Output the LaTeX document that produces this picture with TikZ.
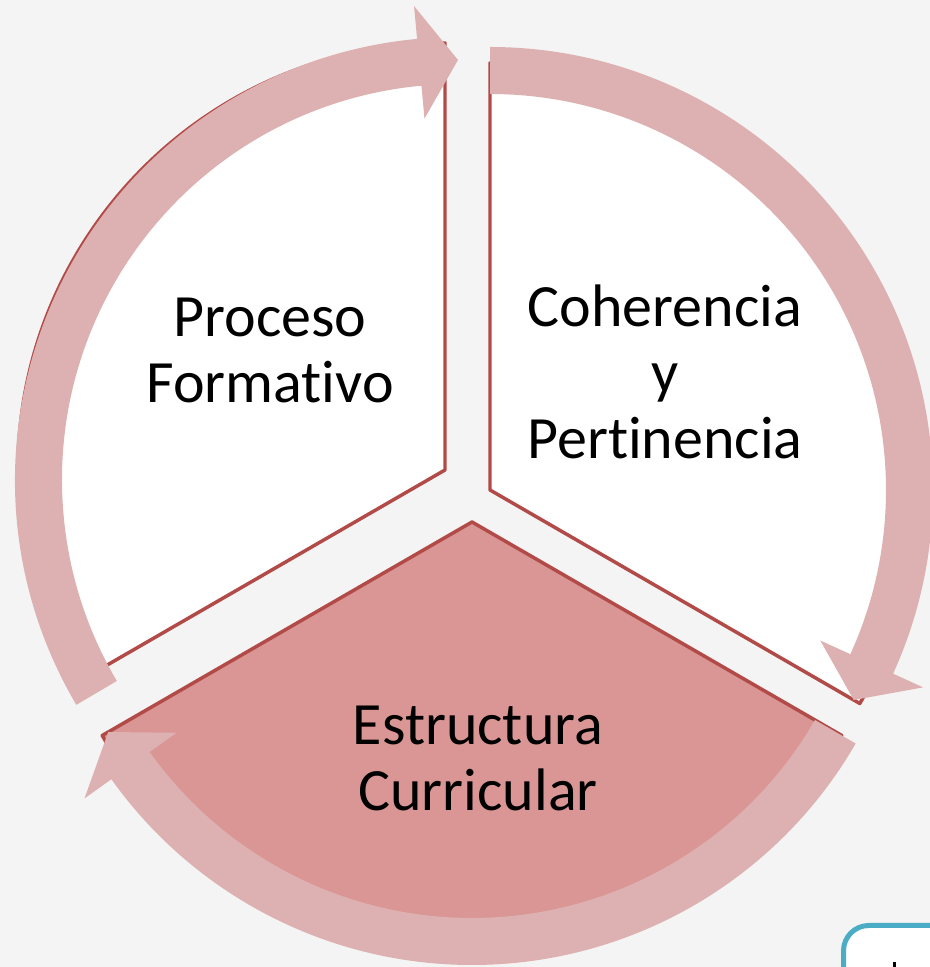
\documentclass[tikz,border=0pt]{standalone}
\usepackage{fontspec}
\setmainfont{Carlito}[Ligatures=NoCommon,RawFeature=-liga]
\definecolor{bgcol}{HTML}{F4F4F4}
\definecolor{linecol}{HTML}{B24B48}
\definecolor{bottomfill}{HTML}{D99694}
\definecolor{arrowfill}{HTML}{DDB1B1}
\definecolor{boxblue}{HTML}{4BACC6}
\begin{document}
\begin{tikzpicture}[x=0.75pt,y=0.75pt,
  sector/.style={draw=linecol, line width=2.6pt, line join=round},
  cyclearrow/.style={fill=arrowfill},
  lbl/.style={align=center, inner sep=0pt, font=\fontsize{45}{49.5}\selectfont, text=black}]
\useasboundingbox (0,0) rectangle (930,967);
\fill[bgcol] (0,0) rectangle (930,967);
% sectors
\draw[sector, fill=white] (445,497) -- ++(90:427) arc[start angle=90, end angle=210, radius=427] -- cycle;
\draw[sector, fill=white] (490,477) -- ++(90:427) arc[start angle=90, end angle=-30, radius=427] -- cycle;
\draw[sector, fill=bottomfill] (472,445) -- ++(210:427) arc[start angle=210, end angle=330, radius=427] -- cycle;
% arrows
\begin{scope}[shift={(458,487)}]
\fill[cyclearrow] (210.5:443) arc[start angle=210.5, end angle=95.3, radius=443] -- (95.3:476) -- (90:420) -- (95.3:363) -- (95.3:396) arc[start angle=95.3, end angle=210.5, radius=396] -- cycle;
\end{scope}
\begin{scope}[shift={(490,477)}]
\fill[cyclearrow] (90:443) arc[start angle=90, end angle=-24.5, radius=443] -- (-24.5:476) -- (-30:420) -- (-24.5:363) -- (-24.5:396) arc[start angle=-24.5, end angle=90, radius=396] -- cycle;
\end{scope}
\begin{scope}[shift={(472,445)}]
\fill[cyclearrow] (-30:443) arc[start angle=-30, end angle=-144.5, radius=443] -- (-144.5:476) -- (-150:420) -- (-144.5:363) -- (-144.5:396) arc[start angle=-144.5, end angle=-30, radius=396] -- cycle;
\end{scope}
% labels
\node[lbl] (pf) at (270,617) {Proceso\\Formativo};
\node[lbl] (cp) at (665,595) {Coherencia\\y\\Pertinencia};
\node[lbl] (ec) at (478,209) {Estructura\\Curricular};
% partial box at the corner
\draw[boxblue, line width=3.75pt, fill=white, rounded corners=19pt] (843.5,-80) rectangle (1020,41.5);
\fill[black] (893,0) rectangle (896,5);
\end{tikzpicture}
\end{document}
